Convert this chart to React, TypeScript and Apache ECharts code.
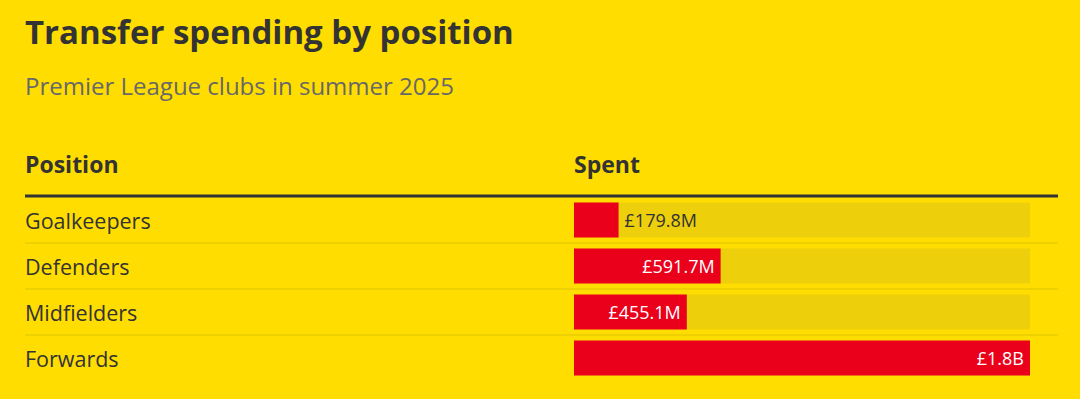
import React, { useEffect, useRef } from "react";
import * as echarts from "echarts";

const positions = ["Goalkeepers", "Defenders", "Midfielders", "Forwards"];
const spentMillions = [179.8, 591.7, 455.1, 1840];
const spentLabels = ["£179.8M", "£591.7M", "£455.1M", "£1.8B"];

const TITLE = "Transfer spending by position";
const SUBTITLE = "Premier League clubs in summer 2025";
const HEAD_LEFT = "Position";
const HEAD_RIGHT = "Spent";

const BG = "#FFDD00";
const TRACK = "#EDCF0B";
const RED = "#EB001C";
const DARK = "#333333";
const FONT = "'Open Sans', sans-serif";

export default function App() {
  const ref = useRef<HTMLDivElement>(null);
  useEffect(() => {
    document.body.style.margin = "0";
    const chart = echarts.init(ref.current!, null, { renderer: "svg" });
    const maxV = Math.max(...spentMillions);
    const sepColors = positions.map((_, i) => (i === 0 ? "rgba(0,0,0,0)" : "#E8CC00"));
    sepColors.push("rgba(0,0,0,0)");
    chart.setOption({
      animation: false,
      backgroundColor: BG,
      textStyle: { fontFamily: FONT },
      grid: [
        { left: 574, right: 50, top: 197, bottom: 18 },
        { left: 25, right: 22, top: 197, bottom: 18 },
      ],
      xAxis: [
        { type: "value", gridIndex: 0, min: 0, max: maxV, show: false },
        { type: "value", gridIndex: 1, min: 0, max: 1, show: false },
      ],
      yAxis: [
        {
          type: "category",
          gridIndex: 0,
          data: positions,
          inverse: true,
          axisLine: { show: false },
          axisTick: { show: false },
          axisLabel: { show: false },
          splitLine: { show: false },
        },
        {
          type: "category",
          gridIndex: 1,
          data: positions,
          inverse: true,
          axisLine: { show: false },
          axisTick: { show: false },
          axisLabel: {
            show: true,
            inside: true,
            margin: 0,
            color: DARK,
            fontSize: 21.5,
            fontFamily: FONT,
          },
          splitLine: { show: true, lineStyle: { color: sepColors, width: 1.5 } },
        },
      ],
      series: [
        {
          type: "bar",
          xAxisIndex: 0,
          yAxisIndex: 0,
          barWidth: 35,
          showBackground: true,
          backgroundStyle: { color: TRACK },
          itemStyle: { color: RED },
          data: spentMillions.map((v, i) => {
            const narrow = v / maxV < 0.2;
            return {
              value: v,
              label: {
                show: true,
                position: narrow ? "right" : "insideRight",
                distance: 6,
                color: narrow ? DARK : "#ffffff",
                fontSize: 18,
                fontFamily: FONT,
                formatter: () => spentLabels[i],
              },
            };
          }),
        },
      ],
      graphic: [
        {
          type: "text",
          left: 25,
          top: 15,
          style: { text: TITLE, fontSize: 33, fontWeight: "bold", fill: DARK, fontFamily: FONT },
        },
        {
          type: "text",
          left: 25,
          top: 73,
          style: { text: SUBTITLE, fontSize: 24, fill: "#686868", fontFamily: FONT },
        },
        {
          type: "text",
          left: 25,
          top: 152,
          style: { text: HEAD_LEFT, fontSize: 23, fontWeight: "bold", fill: DARK, fontFamily: FONT },
        },
        {
          type: "text",
          left: 574,
          top: 152,
          style: { text: HEAD_RIGHT, fontSize: 23, fontWeight: "bold", fill: DARK, fontFamily: FONT },
        },
        {
          type: "line",
          z: 100,
          shape: { x1: 25, y1: 196, x2: 1058, y2: 196 },
          style: { stroke: DARK, lineWidth: 3 },
        },
      ],
    });
    return () => chart.dispose();
  }, []);
  return <div ref={ref} style={{ width: 1080, height: 399 }} />;
}
